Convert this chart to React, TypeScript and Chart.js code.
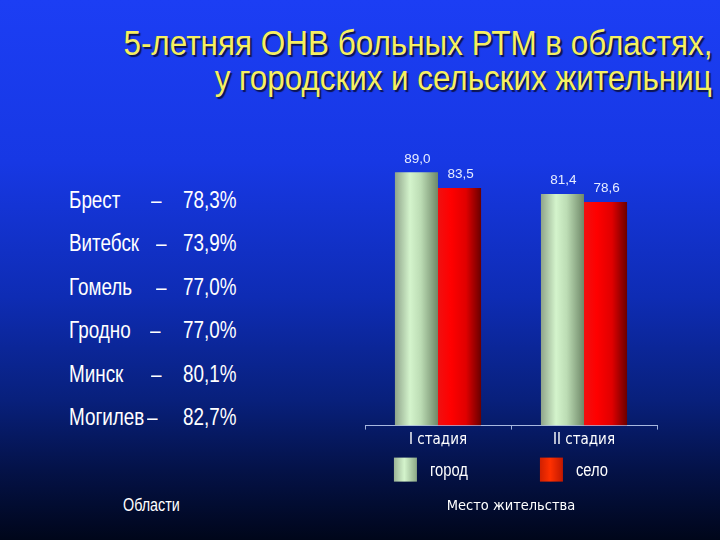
import React, { useEffect, useRef } from "react";
import { Chart, registerables } from "chart.js";

Chart.register(...registerables);

const titleLines = ["5-летняя ОНВ больных РТМ в областях,", "у городских и сельских жительниц"];
const regions = ["Брест", "Витебск", "Гомель", "Гродно", "Минск", "Могилев"];
const regionValues = [78.3, 73.9, 77.0, 77.0, 80.1, 82.7];
const regionDashX = [151, 156, 156, 150, 151, 147];
const categories = ["I стадия", "II стадия"];
const seriesNames = ["город", "село"];
const cityValues = [89.0, 81.4];
const villageValues = [83.5, 78.6];
const leftCaption = "Области";
const chartCaption = "Место жительства";

const SANS = "'Liberation Sans', Arial, sans-serif";
const COND = "'DejaVu Sans Condensed', 'Liberation Sans', sans-serif";
const NARROW = 0.82;
const CAT_PCT = 0.59;

const fmt = (v: number) => v.toFixed(1).replace(".", ",");

let measureCtx: CanvasRenderingContext2D | null = null;
function measure(text: string, size: number) {
  if (!measureCtx) measureCtx = document.createElement("canvas").getContext("2d");
  measureCtx!.font = `${size}px ${SANS}`;
  return measureCtx!.measureText(text).width;
}

function Narrow(props: {
  text: string;
  top: number;
  size: number;
  left?: number;
  right?: number;
  target?: number;
  color?: string;
  shadow?: string;
}) {
  const { text, top, size, left, right, target, color, shadow } = props;
  const s = target ? target / measure(text, size) : NARROW;
  const style: React.CSSProperties = {
    position: "absolute",
    top,
    fontFamily: SANS,
    fontSize: size,
    lineHeight: `${size}px`,
    whiteSpace: "nowrap",
    color: color || "#ffffff",
    transform: `scaleX(${s})`,
    transformOrigin: right !== undefined ? "right top" : "left top",
    textShadow: shadow,
  };
  if (right !== undefined) style.right = right;
  else style.left = left;
  return <div style={style}>{text}</div>;
}

function cityGradient(ctx: CanvasRenderingContext2D, left: number, w: number) {
  const g = ctx.createLinearGradient(left, 0, left + w, 0);
  g.addColorStop(0, "#8fa48a");
  g.addColorStop(0.35, "#d4f4cc");
  g.addColorStop(0.6, "#bcdcb4");
  g.addColorStop(1, "#6f8868");
  return g;
}
function villageGradient(ctx: CanvasRenderingContext2D, left: number, w: number) {
  const g = ctx.createLinearGradient(left, 0, left + w, 0);
  g.addColorStop(0, "#f01010");
  g.addColorStop(0.3, "#ff0000");
  g.addColorStop(0.65, "#e00000");
  g.addColorStop(1, "#6a0000");
  return g;
}
function legendGradient(ctx: CanvasRenderingContext2D, i: number, left: number, w: number) {
  const g = ctx.createLinearGradient(left, 0, left + w, 0);
  if (i === 0) {
    g.addColorStop(0, "#9cb496");
    g.addColorStop(0.45, "#d4f4cc");
    g.addColorStop(1, "#8ca886");
  } else {
    g.addColorStop(0, "#d02000");
    g.addColorStop(0.45, "#ff3000");
    g.addColorStop(1, "#c01800");
  }
  return g;
}

function barFill(i: number) {
  return (c: any) => {
    const chart = c.chart;
    const xs = chart.scales && chart.scales.x;
    if (!xs || c.type !== "data" || !xs.width) return i === 0 ? "#c8e8c0" : "#ff0000";
    const center = xs.getPixelForValue(c.dataIndex);
    const w = ((xs.width / categories.length) * CAT_PCT) / 2;
    const left = i === 0 ? center - w : center;
    return i === 0 ? cityGradient(chart.ctx, left, w) : villageGradient(chart.ctx, left, w);
  };
}

const valueLabels = {
  id: "valueLabels",
  afterDatasetsDraw(chart: any) {
    const ctx = chart.ctx;
    ctx.save();
    ctx.font = `13.5px ${SANS}`;
    ctx.fillStyle = "#e6ecff";
    ctx.textAlign = "center";
    ctx.textBaseline = "alphabetic";
    chart.data.datasets.forEach((ds: any, di: number) => {
      const meta = chart.getDatasetMeta(di);
      meta.data.forEach((el: any, idx: number) => {
        ctx.fillText(fmt(ds.data[idx]), el.x + 1, el.y - 9.5);
      });
    });
    ctx.restore();
  },
};

const boxLegend = {
  id: "boxLegend",
  afterDraw(chart: any) {
    const ctx = chart.ctx;
    const xs = chart.scales.x;
    const w = ((xs.width / categories.length) * CAT_PCT) / 2;
    const top = xs.bottom + 6;
    ctx.save();
    chart.data.datasets.forEach((ds: any, i: number) => {
      const left = xs.getPixelForValue(i) - w - 1;
      ctx.fillStyle = legendGradient(ctx, i, left, 23);
      ctx.fillRect(left, top, 23, 24);
      ctx.save();
      ctx.translate(left + 36, top + 18);
      ctx.scale(NARROW, 1);
      ctx.font = `18px ${SANS}`;
      ctx.textAlign = "left";
      ctx.textBaseline = "alphabetic";
      ctx.fillStyle = "#ffffff";
      ctx.fillText(ds.label, 0, 0);
      ctx.restore();
    });
    ctx.restore();
  },
};

function BarChart() {
  const ref = useRef<HTMLCanvasElement | null>(null);
  useEffect(() => {
    if (!ref.current) return;
    const chart = new Chart(ref.current, {
      type: "bar",
      data: {
        labels: categories,
        datasets: [
          { label: seriesNames[0], data: cityValues, backgroundColor: barFill(0) as any, borderWidth: 0 },
          { label: seriesNames[1], data: villageValues, backgroundColor: barFill(1) as any, borderWidth: 0 },
        ],
      },
      options: {
        animation: false,
        responsive: false,
        maintainAspectRatio: false,
        layout: { padding: { left: 10, right: 18, top: 11, bottom: 10 } },
        datasets: { bar: { categoryPercentage: CAT_PCT, barPercentage: 1 } } as any,
        scales: {
          x: {
            grid: { display: true, drawOnChartArea: false, drawTicks: true, tickLength: 4, color: "#9fb0d8" },
            border: { display: true, color: "#a8b8e0", width: 1 },
            ticks: { color: "#ffffff", font: { family: COND, size: 15 }, padding: 2 },
          },
          y: { display: false, min: 0, max: 100 },
        },
        plugins: {
          legend: { display: false },
          tooltip: { enabled: false },
          title: {
            display: true,
            position: "bottom",
            text: chartCaption,
            color: "#ffffff",
            font: { family: COND, size: 14.5, weight: "normal" },
            padding: { top: 46, bottom: 5 },
          },
        },
      },
      plugins: [valueLabels, boxLegend],
    });
    return () => chart.destroy();
  }, []);
  return (
    <canvas
      ref={ref}
      width={320}
      height={400}
      style={{ position: "absolute", left: 355, top: 130, width: 320, height: 400 }}
    />
  );
}

export default function App() {
  return (
    <div
      style={{
        position: "fixed",
        left: 0,
        top: 0,
        width: 720,
        height: 540,
        overflow: "hidden",
        fontFamily: SANS,
        background:
          "linear-gradient(to bottom, #1c3ef4 0%, #1738e4 30%, #0e2cb4 55%, #08207c 74%, #041248 87%, #00061a 100%)",
      }}
    >
      <Narrow text={titleLines[0]} right={8} top={25} size={35} target={589} color="#f6f060" shadow="2px 2px 1px #0c1450" />
      <Narrow text={titleLines[1]} right={8} top={60} size={35} target={497} color="#f6f060" shadow="2px 2px 1px #0c1450" />
      {regions.map((r, i) => {
        const top = 188.5 + i * 43.5;
        return (
          <React.Fragment key={r}>
            <Narrow text={r} left={69} top={top} size={23} />
            <Narrow text="–" left={regionDashX[i]} top={top} size={23} />
            <Narrow text={`${fmt(regionValues[i])}%`} left={183} top={top} size={23} />
          </React.Fragment>
        );
      })}
      <Narrow text={leftCaption} left={123} top={497} size={17.5} />
      <BarChart />
    </div>
  );
}
